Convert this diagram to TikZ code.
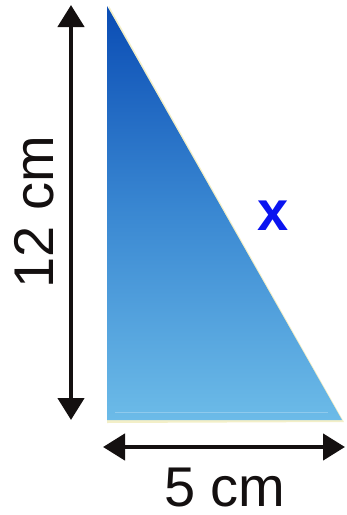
\documentclass[tikz,border=0pt]{standalone}
\usepackage{tikz}
\usetikzlibrary{arrows.meta,positioning,calc}
\usepackage{fontspec}
\setmainfont{Liberation Sans}
\usepackage{xcolor}
\definecolor{DeepBlue}{HTML}{0A4CB4}
\definecolor{MidBlue}{HTML}{3A88D2}
\definecolor{SkyBlue}{HTML}{6CBBE8}
\definecolor{Edge}{HTML}{F3EFC8}
\definecolor{Ink}{HTML}{141010}
\definecolor{LabelBlue}{HTML}{0A14F0}
\tikzset{
 dimarrow/.style={{Triangle[length=22pt,width=26pt]}-{Triangle[length=22pt,width=26pt]}, line width=4.5pt, draw=Ink},
 dimlabel/.style={font=\fontsize{56}{60}\selectfont, text=Ink, inner sep=0pt},
 sidelabel/.style={font=\fontsize{56}{60}\selectfont\bfseries, text=LabelBlue, inner sep=0pt}
}
\begin{document}
\begin{tikzpicture}[x=1pt,y=-1pt]
\useasboundingbox (0,0) rectangle (347,515);
\coordinate (apex) at (107,6);
\coordinate (corner) at (107,420);
\coordinate (foot) at (342,420);
\fill[Edge] ($(apex)+(2,0)$) -- ($(foot)+(2,2)$) -- ($(corner)+(0,3)$) -- cycle;
\shade[top color=DeepBlue, bottom color=SkyBlue, middle color=MidBlue] (apex) -- (foot) -- (corner) -- cycle;
\draw[white, opacity=0.25, line width=1pt] ($(corner)+(8,-8)$) -- ($(foot)+(-14,-8)$);
\coordinate (vtop) at (71,5);
\coordinate (vbot) at (71,420);
\coordinate (hleft) at (103,447);
\coordinate (hright) at (345,447);
\draw[dimarrow] (vtop) -- (vbot);
\draw[dimarrow] (hleft) -- (hright);
\node[dimlabel, rotate=90] (height) at (34,212) {12 cm};
\node[dimlabel] (base) at (225,488) {5 cm};
\node[sidelabel] (hyp) at (273,216) {x};
\end{tikzpicture}
\end{document}
